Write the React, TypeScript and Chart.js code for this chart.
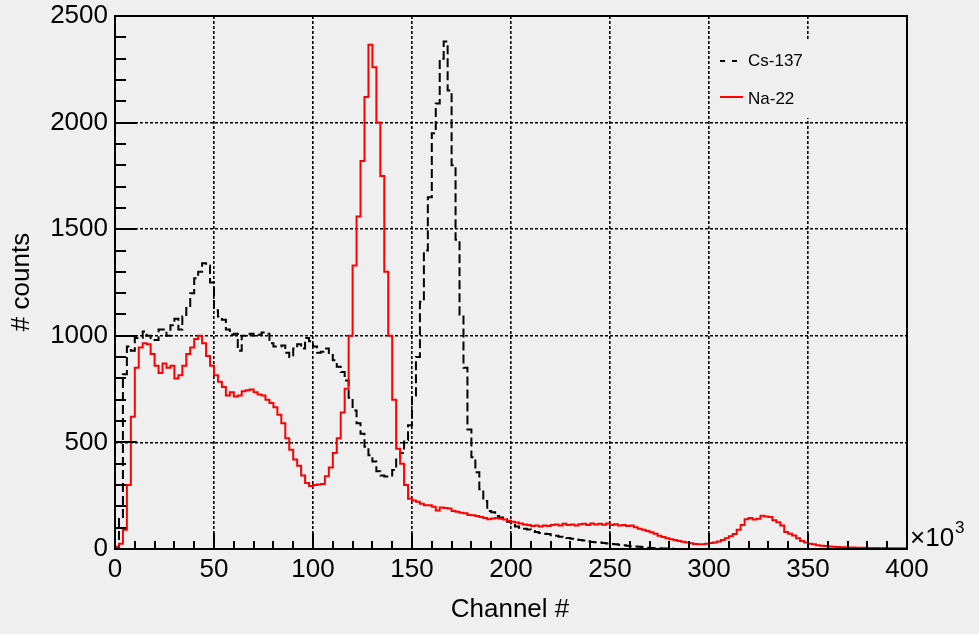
import React, { useEffect, useRef } from 'react';
import { Chart, registerables } from 'chart.js';

Chart.register(...registerables);

const BG = '#efefef';
const FONT = "'Liberation Sans', Arial, Helvetica, sans-serif";

// Histogram binning (x in units of 10^3 channels)
const binWidth = 2;
const xMin = 0;
const xMax = 400;
const yMin = 0;
const yMax = 2500;
const xMajorStep = 50;
const xMinorStep = 10;
const yMajorStep = 500;
const yMinorStep = 100;

const seriesLabels = ['Cs-137', 'Na-22'];
const xTitle = 'Channel #';
const yTitle = '# counts';

// Cs-137 counts per 2-unit bin, bins starting at 0, 2, 4, ... 398
const csCounts = [
  0, 3, 150, 820, 950, 930, 990, 990, 1020, 1000,
  990, 980, 1030, 1030, 1000, 1050, 1080, 1030, 1090, 1130,
  1200, 1270, 1300, 1340, 1330, 1250, 1120, 1090, 1075, 1030,
  1005, 1010, 930, 1000, 1000, 1010, 1000, 1005, 1015, 1010,
  965, 950, 950, 955, 920, 900, 940, 960, 940, 990,
  975, 950, 920, 925, 940, 910, 885, 855, 830, 790,
  710, 650, 590, 540, 480, 440, 410, 365, 345, 340,
  345, 370, 430, 450, 510, 580, 720, 900, 1160, 1400,
  1650, 1950, 2090, 2300, 2380, 2150, 1800, 1450, 1100, 850,
  560, 430, 360, 280, 225, 178, 172, 155, 148, 140,
  128, 120, 105, 100, 95, 92, 85, 80, 75, 72,
  70, 65, 62, 58, 55, 52, 48, 45, 42, 40,
  36, 33, 32, 30, 28, 26, 24, 22, 20, 18,
  15, 13, 12, 10, 8, 6, 5, 4, 3, 2,
  2, 1, 0, 0, 0, 0, 0, 0, 0, 0,
  0, 0, 0, 0, 0, 0, 0, 0, 0, 0,
  0, 0, 0, 0, 0, 0, 0, 0, 0, 0,
  0, 0, 0, 0, 0, 0, 0, 0, 0, 0,
  0, 0, 0, 0, 0, 0, 0, 0, 0, 0,
  0, 0, 0, 0, 0, 0, 0, 0, 0, 0,
];

// Na-22 counts per 2-unit bin, bins starting at 0, 2, 4, ... 398
const naCounts = [
  5, 10, 25, 90, 300, 620, 850, 945, 965, 960,
  915, 860, 825, 870, 850, 860, 800, 815, 860, 915,
  945, 985, 1000, 965, 905, 860, 815, 785, 760, 720,
  735, 715, 720, 740, 745, 748, 735, 725, 720, 700,
  685, 665, 630, 590, 520, 465, 420, 390, 345, 310,
  295, 300, 302, 305, 341, 382, 450, 520, 640, 752,
  1000, 1330, 1560, 1820, 2120, 2365, 2260, 2000, 1750, 1300,
  1000, 700, 470, 400, 300, 236, 228, 222, 212, 205,
  205, 198, 180, 195, 192, 190, 178, 175, 170, 168,
  160, 158, 155, 150, 145, 140, 143, 145, 142, 138,
  132, 128, 124, 120, 115, 112, 108, 110, 105, 110,
  108, 112, 115, 110, 118, 112, 115, 110, 116, 118,
  112, 120, 115, 118, 114, 120, 112, 116, 110, 112,
  108, 110, 102, 95, 90, 84, 78, 72, 62, 56,
  50, 46, 42, 38, 34, 30, 27, 24, 22, 22,
  25, 28, 30, 35, 42, 50, 60, 70, 90, 112,
  140, 145, 138, 142, 156, 152, 150, 135, 125, 110,
  80, 72, 63, 50, 38, 30, 25, 22, 18, 15,
  14, 12, 10, 9, 8, 8, 7, 7, 6, 6,
  6, 5, 5, 5, 4, 5, 4, 4, 3, 4,
];

function toSteps(values: number[]) {
  const pts = values.map((v, i) => ({ x: xMin + i * binWidth, y: v }));
  pts.push({ x: xMin + values.length * binWidth, y: values[values.length - 1] });
  return pts;
}

const rootPlugin = {
  id: 'rootStyle',
  beforeDraw(chart: any) {
    const ctx = chart.ctx;
    ctx.save();
    ctx.fillStyle = BG;
    ctx.fillRect(0, 0, chart.width, chart.height);
    ctx.restore();
  },
  afterDatasetsDraw(chart: any) {
    const { ctx, chartArea: a, scales } = chart;
    const xs = scales.x;
    const ys = scales.y;
    ctx.save();

    // legend (opaque box, no border)
    const lx = a.right - 194;
    ctx.fillStyle = BG;
    ctx.fillRect(lx, a.top + 23, 185, 79);
    ctx.lineWidth = 2;
    ctx.strokeStyle = '#000';
    ctx.setLineDash([5, 7]);
    ctx.beginPath();
    ctx.moveTo(lx + 7, a.top + 45);
    ctx.lineTo(lx + 25, a.top + 45);
    ctx.stroke();
    ctx.setLineDash([]);
    ctx.strokeStyle = '#ff0000';
    ctx.beginPath();
    ctx.moveTo(lx + 7, a.top + 81);
    ctx.lineTo(lx + 30, a.top + 81);
    ctx.stroke();
    ctx.fillStyle = '#000';
    ctx.font = `17px ${FONT}`;
    ctx.textAlign = 'left';
    ctx.textBaseline = 'middle';
    ctx.fillText(seriesLabels[0], lx + 35, a.top + 45);
    ctx.fillText(seriesLabels[1], lx + 35, a.top + 83);

    // inward ticks
    ctx.strokeStyle = '#000';
    ctx.lineWidth = 2;
    ctx.beginPath();
    for (let v = xMin; v <= xMax + 1e-9; v += xMinorStep) {
      const px = Math.round(xs.getPixelForValue(v));
      const len = v % xMajorStep === 0 ? 16 : 8;
      ctx.moveTo(px, a.bottom);
      ctx.lineTo(px, a.bottom - len);
    }
    for (let v = yMin; v <= yMax + 1e-9; v += yMinorStep) {
      const py = Math.round(ys.getPixelForValue(v));
      const len = v % yMajorStep === 0 ? 22 : 11;
      ctx.moveTo(a.left, py);
      ctx.lineTo(a.left + len, py);
    }
    ctx.stroke();

    // frame
    ctx.lineWidth = 2;
    ctx.strokeRect(a.left, a.top, a.right - a.left, a.bottom - a.top);
    ctx.restore();
  },
  afterDraw(chart: any) {
    const { ctx, chartArea: a } = chart;
    ctx.save();
    ctx.fillStyle = '#000';
    ctx.font = `26px ${FONT}`;
    ctx.textAlign = 'center';
    ctx.textBaseline = 'middle';
    ctx.fillText(xTitle, 510, 610);
    ctx.save();
    ctx.translate(22, 282);
    ctx.rotate(-Math.PI / 2);
    ctx.fillText(yTitle, 0, 0);
    ctx.restore();
    // x10^3 multiplier
    ctx.textAlign = 'left';
    ctx.fillText('\u00d710', a.right + 3, a.bottom - 10);
    ctx.font = `17px ${FONT}`;
    ctx.fillText('3', a.right + 48, a.bottom - 21);
    ctx.restore();
  },
};

export default function App() {
  const ref = useRef<HTMLCanvasElement | null>(null);

  useEffect(() => {
    document.body.style.margin = '0';
    document.body.style.background = BG;
    const canvas = ref.current;
    if (!canvas) return;
    const chart = new Chart(canvas, {
      type: 'line',
      data: {
        datasets: [
          {
            label: seriesLabels[1],
            data: toSteps(naCounts),
            stepped: 'after',
            borderColor: '#ff0000',
            borderWidth: 2,
            pointRadius: 0,
            fill: false,
          },
          {
            label: seriesLabels[0],
            data: toSteps(csCounts),
            stepped: 'after',
            borderColor: '#000000',
            borderWidth: 2,
            borderDash: [9, 4],
            pointRadius: 0,
            fill: false,
          },
        ],
      },
      options: {
        animation: false,
        responsive: false,
        devicePixelRatio: 1,
        layout: { padding: { left: 0, top: 16, right: 72, bottom: 0 } },
        plugins: { legend: { display: false }, tooltip: { enabled: false } },
        scales: {
          x: {
            type: 'linear',
            min: xMin,
            max: xMax,
            afterFit: (s: any) => {
              s.height = 85;
              s.paddingLeft = 0;
              s.paddingRight = 0;
            },
            ticks: {
              stepSize: xMajorStep,
              autoSkip: false,
              maxRotation: 0,
              padding: 5,
              color: '#000',
              font: { family: FONT, size: 26 },
              callback: (v: any) => String(v),
            },
            grid: { color: '#000', lineWidth: 1.6, drawTicks: false },
            border: { display: false, dash: [3, 2] },
          },
          y: {
            type: 'linear',
            min: yMin,
            max: yMax,
            afterFit: (s: any) => {
              s.width = 115;
              s.paddingTop = 0;
              s.paddingBottom = 0;
            },
            ticks: {
              stepSize: yMajorStep,
              autoSkip: false,
              padding: 7,
              color: '#000',
              font: { family: FONT, size: 26 },
              callback: (v: any) => String(v),
            },
            grid: { color: '#000', lineWidth: 1.6, drawTicks: false },
            border: { display: false, dash: [3, 2] },
          },
        },
      },
      plugins: [rootPlugin],
    });
    return () => chart.destroy();
  }, []);

  return (
    <div style={{ position: 'fixed', left: 0, top: 0, width: 979, height: 634, background: BG }}>
      <canvas ref={ref} width={979} height={634} style={{ width: 979, height: 634, display: 'block' }} />
    </div>
  );
}
